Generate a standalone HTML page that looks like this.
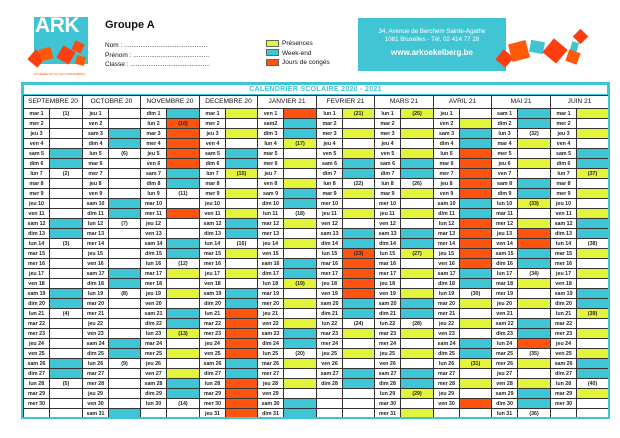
<!DOCTYPE html>
<html><head><meta charset="utf-8"><style>
*{margin:0;padding:0;box-sizing:border-box}
body{width:620px;height:438px;background:#fff;position:relative;overflow:hidden;font-family:"Liberation Sans",sans-serif;color:#222}
.a{position:absolute}
.sq{position:absolute}
#cal{position:absolute;left:21px;top:82px;width:589px;height:337px;border:2px solid #3fc4d4;background:#fff;overflow:hidden}
#title{height:11px;border:1px solid #3fc4d4;color:#3fc4d4;font-weight:bold;font-size:7px;line-height:9px;text-align:center;letter-spacing:.3px}
table{border-collapse:collapse;table-layout:fixed;width:585px}
td{border:1px solid #333;padding:0;font-weight:bold;font-size:5.3px;text-align:center;line-height:8px;overflow:hidden;white-space:nowrap;color:#222}
tr{height:10px}
tr.h{height:13px}
tr.h td{font-size:6.6px;font-weight:normal;color:#111}
.y{background:#e2f43c}.c{background:#3ec6d6}.o{background:#ff540f}
</style></head><body>
<!-- logo -->
<div class="a" style="left:34px;top:17px;width:54px;height:47px;background:#3fc4d4"></div>
<div class="a" style="left:35px;top:14px;font:bold 21px 'Liberation Sans',sans-serif;color:#fff;letter-spacing:-0.5px">ARK</div>
<div class="sq" style="left:30px;top:52px;width:13px;height:13px;background:#ff3d10;transform:rotate(40deg)"></div>
<div class="sq" style="left:40px;top:48px;width:12px;height:12px;background:#ff5a0a;transform:rotate(-15deg)"></div>
<div class="sq" style="left:59px;top:48px;width:14px;height:14px;background:#ff3d10;transform:rotate(30deg)"></div>
<div class="sq" style="left:73px;top:42px;width:10px;height:10px;background:#ff4a10;transform:rotate(25deg)"></div>
<div class="sq" style="left:76px;top:56px;width:9px;height:9px;background:#ff5a0a;transform:rotate(15deg)"></div>
<div class="a" style="left:34px;top:72px;font-size:3px;color:#ff5a0a;white-space:nowrap">ATHÉNÉE ROYAL DE KOEKELBERG</div>
<!-- group -->
<div class="a" style="left:105px;top:19px;font:bold 11px 'Liberation Sans',sans-serif;color:#111">Groupe A</div>
<div class="a" style="left:105px;top:41px;font-size:6.5px;line-height:9.5px;color:#111;white-space:nowrap">Nom : ..............................................<br>Prénom : ..........................................<br>Classe : ............................................</div>
<!-- legend -->
<div class="a y" style="left:266px;top:40px;width:13px;height:7px;border:1px solid #666"></div>
<div class="a c" style="left:266px;top:49px;width:13px;height:7px;border:1px solid #666"></div>
<div class="a o" style="left:266px;top:59px;width:13px;height:7px;border:1px solid #666"></div>
<div class="a" style="left:282px;top:39px;font-size:6.5px;line-height:9.6px;color:#111;white-space:nowrap">Présences<br>Week-end<br>Jours de congés</div>
<!-- contact -->
<div class="a" style="left:358px;top:18px;width:148px;height:53px;background:#41c5d5;color:#fff;text-align:center">
<div style="font-size:6.2px;line-height:8px;margin-top:10px">34, Avenue de Berchem Sainte-Agathe<br>1081 Bruxelles - Tél. 02 414 77 28</div>
<div style="font-weight:bold;font-size:8px;margin-top:4px">www.arkoekelberg.be</div></div>
<div class="sq" style="left:498px;top:52px;width:13px;height:13px;background:#ff3d10;transform:rotate(40deg)"></div>
<div class="sq" style="left:510px;top:42px;width:18px;height:18px;background:#ff5a0a;transform:rotate(-15deg)"></div>
<div class="sq" style="left:530px;top:41px;width:14px;height:12px;background:#3fc4d4;transform:rotate(10deg)"></div>
<div class="sq" style="left:546px;top:42px;width:18px;height:18px;background:#ff3d10;transform:rotate(40deg)"></div>
<div class="sq" style="left:571px;top:42px;width:7px;height:9px;background:#3fc4d4;transform:rotate(15deg)"></div>
<div class="sq" style="left:567px;top:51px;width:12px;height:12px;background:#ff5a0a;transform:rotate(20deg)"></div>
<div class="sq" style="left:575px;top:31px;width:11px;height:11px;background:#ff3d10;transform:rotate(45deg)"></div>
<!-- calendar -->
<div id="cal"><div id="title">CALENDRIER SCOLAIRE 2020 - 2021</div>
<table><colgroup>
<col style="width:26px"><col style="width:33px"><col style="width:26px"><col style="width:32px"><col style="width:26px"><col style="width:33px"><col style="width:26px"><col style="width:32px"><col style="width:26px"><col style="width:33px"><col style="width:26px"><col style="width:32px"><col style="width:26px"><col style="width:33px"><col style="width:26px"><col style="width:32px"><col style="width:26px"><col style="width:33px"><col style="width:26px"><col style="width:32px"></colgroup>
<tr class="h"><td colspan="2">SEPTEMBRE 20</td><td colspan="2">OCTOBRE 20</td><td colspan="2">NOVEMBRE 20</td><td colspan="2">DECEMBRE 20</td><td colspan="2">JANVIER 21</td><td colspan="2">FEVRIER 21</td><td colspan="2">MARS 21</td><td colspan="2">AVRIL 21</td><td colspan="2">MAI 21</td><td colspan="2">JUIN 21</td></tr>
<tr><td>mar 1</td><td>(1)</td><td>jeu 1</td><td></td><td>dim 1</td><td class="c"></td><td>mar 1</td><td class="y"></td><td>ven 1</td><td class="o"></td><td>lun 1</td><td class="y">(21)</td><td>lun 1</td><td class="y">(25)</td><td>jeu 1</td><td></td><td>sam 1</td><td class="c"></td><td>mar 1</td><td class="y"></td></tr>
<tr><td>mer 2</td><td></td><td>ven 2</td><td></td><td>lun 2</td><td class="o">(10)</td><td>mer 2</td><td></td><td>sam2</td><td class="c"></td><td>mar 2</td><td></td><td>mar 2</td><td></td><td>ven 2</td><td class="y"></td><td>dim 2</td><td class="c"></td><td>mer 2</td><td></td></tr>
<tr><td>jeu 3</td><td></td><td>sam 3</td><td class="c"></td><td>mar 3</td><td class="o"></td><td>jeu 3</td><td class="y"></td><td>dim 3</td><td class="c"></td><td>mer 3</td><td class="y"></td><td>mer 3</td><td class="y"></td><td>sam 3</td><td class="c"></td><td>lun 3</td><td>(32)</td><td>jeu 3</td><td class="y"></td></tr>
<tr><td>ven 4</td><td></td><td>dim 4</td><td class="c"></td><td>mer 4</td><td class="o"></td><td>ven 4</td><td></td><td>lun 4</td><td class="y">(17)</td><td>jeu 4</td><td></td><td>jeu 4</td><td></td><td>dim 4</td><td class="c"></td><td>mar 4</td><td class="y"></td><td>ven 4</td><td></td></tr>
<tr><td>sam 5</td><td class="c"></td><td>lun 5</td><td>(6)</td><td>jeu 5</td><td class="o"></td><td>sam 5</td><td class="c"></td><td>mar 5</td><td></td><td>ven 5</td><td class="y"></td><td>ven 5</td><td class="y"></td><td>lun 5</td><td class="o"></td><td>mer 5</td><td></td><td>sam 5</td><td class="c"></td></tr>
<tr><td>dim 6</td><td class="c"></td><td>mar 6</td><td></td><td>ven 6</td><td class="o"></td><td>dim 6</td><td class="c"></td><td>mer 6</td><td class="y"></td><td>sam 6</td><td class="c"></td><td>sam 6</td><td class="c"></td><td>mar 6</td><td class="o"></td><td>jeu 6</td><td class="y"></td><td>dim 6</td><td class="c"></td></tr>
<tr><td>lun 7</td><td>(2)</td><td>mer 7</td><td></td><td>sam 7</td><td class="c"></td><td>lun 7</td><td class="y">(15)</td><td>jeu 7</td><td></td><td>dim 7</td><td class="c"></td><td>dim 7</td><td class="c"></td><td>mer 7</td><td class="o"></td><td>ven 7</td><td></td><td>lun 7</td><td class="y">(37)</td></tr>
<tr><td>mar 8</td><td></td><td>jeu 8</td><td></td><td>dim 8</td><td class="c"></td><td>mar 8</td><td></td><td>ven 8</td><td class="y"></td><td>lun 8</td><td>(22)</td><td>lun 8</td><td>(26)</td><td>jeu 8</td><td class="o"></td><td>sam 8</td><td class="c"></td><td>mar 8</td><td></td></tr>
<tr><td>mer 9</td><td></td><td>ven 9</td><td></td><td>lun 9</td><td>(11)</td><td>mer 9</td><td class="y"></td><td>sam 9</td><td class="c"></td><td>mar 9</td><td class="y"></td><td>mar 9</td><td class="y"></td><td>ven 9</td><td class="o"></td><td>dim 9</td><td class="c"></td><td>mer 9</td><td class="y"></td></tr>
<tr><td>jeu 10</td><td></td><td>sam 10</td><td class="c"></td><td>mar 10</td><td></td><td>jeu 10</td><td></td><td>dim 10</td><td class="c"></td><td>mer 10</td><td></td><td>mer 10</td><td></td><td>sam 10</td><td class="c"></td><td>lun 10</td><td class="y">(33)</td><td>jeu 10</td><td></td></tr>
<tr><td>ven 11</td><td></td><td>dim 11</td><td class="c"></td><td>mer 11</td><td class="o"></td><td>ven 11</td><td class="y"></td><td>lun 11</td><td>(18)</td><td>jeu 11</td><td class="y"></td><td>jeu 11</td><td class="y"></td><td>dim 11</td><td class="c"></td><td>mar 11</td><td></td><td>ven 11</td><td class="y"></td></tr>
<tr><td>sam 12</td><td class="c"></td><td>lun 12</td><td>(7)</td><td>jeu 12</td><td></td><td>sam 12</td><td class="c"></td><td>mar 12</td><td class="y"></td><td>ven 12</td><td></td><td>ven 12</td><td></td><td>lun 12</td><td class="o"></td><td>mer 12</td><td class="y"></td><td>sam 12</td><td class="c"></td></tr>
<tr><td>dim 13</td><td class="c"></td><td>mar 13</td><td></td><td>ven 13</td><td></td><td>dim 13</td><td class="c"></td><td>mer 13</td><td></td><td>sam 13</td><td class="c"></td><td>sam 13</td><td class="c"></td><td>mar 13</td><td class="o"></td><td>jeu 13</td><td class="o"></td><td>dim 13</td><td class="c"></td></tr>
<tr><td>lun 14</td><td>(3)</td><td>mer 14</td><td></td><td>sam 14</td><td class="c"></td><td>lun 14</td><td>(16)</td><td>jeu 14</td><td class="y"></td><td>dim 14</td><td class="c"></td><td>dim 14</td><td class="c"></td><td>mer 14</td><td class="o"></td><td>ven 14</td><td class="o"></td><td>lun 14</td><td>(38)</td></tr>
<tr><td>mar 15</td><td></td><td>jeu 15</td><td></td><td>dim 15</td><td class="c"></td><td>mar 15</td><td class="y"></td><td>ven 15</td><td></td><td>lun 15</td><td class="o">(23)</td><td>lun 15</td><td class="y">(27)</td><td>jeu 15</td><td class="o"></td><td>sam 15</td><td class="c"></td><td>mar 15</td><td class="y"></td></tr>
<tr><td>mer 16</td><td></td><td>ven 16</td><td></td><td>lun 16</td><td>(12)</td><td>mer 16</td><td></td><td>sam 16</td><td class="c"></td><td>mar 16</td><td class="o"></td><td>mar 16</td><td></td><td>ven 16</td><td class="o"></td><td>dim 16</td><td class="c"></td><td>mer 16</td><td></td></tr>
<tr><td>jeu 17</td><td></td><td>sam 17</td><td class="c"></td><td>mar 17</td><td class="y"></td><td>jeu 17</td><td class="y"></td><td>dim 17</td><td class="c"></td><td>mer 17</td><td class="o"></td><td>mer 17</td><td class="y"></td><td>sam 17</td><td class="c"></td><td>lun 17</td><td>(34)</td><td>jeu 17</td><td class="y"></td></tr>
<tr><td>ven 18</td><td></td><td>dim 18</td><td class="c"></td><td>mer 18</td><td></td><td>ven 18</td><td></td><td>lun 18</td><td class="y">(19)</td><td>jeu 18</td><td class="o"></td><td>jeu 18</td><td></td><td>dim 18</td><td class="c"></td><td>mar 18</td><td class="y"></td><td>ven 18</td><td></td></tr>
<tr><td>sam 19</td><td class="c"></td><td>lun 19</td><td>(8)</td><td>jeu 19</td><td class="y"></td><td>sam 19</td><td class="c"></td><td>mar 19</td><td></td><td>ven 19</td><td class="o"></td><td>ven 19</td><td class="y"></td><td>lun 19</td><td>(30)</td><td>mer 19</td><td></td><td>sam 19</td><td class="c"></td></tr>
<tr><td>dim 20</td><td class="c"></td><td>mar 20</td><td></td><td>ven 20</td><td></td><td>dim 20</td><td class="c"></td><td>mer 20</td><td class="y"></td><td>sam 20</td><td class="c"></td><td>sam 20</td><td class="c"></td><td>mar 20</td><td class="y"></td><td>jeu 20</td><td class="y"></td><td>dim 20</td><td class="c"></td></tr>
<tr><td>lun 21</td><td>(4)</td><td>mer 21</td><td></td><td>sam 21</td><td class="c"></td><td>lun 21</td><td class="o"></td><td>jeu 21</td><td></td><td>dim 21</td><td class="c"></td><td>dim 21</td><td class="c"></td><td>mer 21</td><td></td><td>ven 21</td><td></td><td>lun 21</td><td class="y">(39)</td></tr>
<tr><td>mar 22</td><td></td><td>jeu 22</td><td></td><td>dim 22</td><td class="c"></td><td>mar 22</td><td class="o"></td><td>ven 22</td><td class="y"></td><td>lun 22</td><td>(24)</td><td>lun 22</td><td>(28)</td><td>jeu 22</td><td class="y"></td><td>sam 22</td><td class="c"></td><td>mar 22</td><td></td></tr>
<tr><td>mer 23</td><td></td><td>ven 23</td><td></td><td>lun 23</td><td class="y">(13)</td><td>mer 23</td><td class="o"></td><td>sam 23</td><td class="c"></td><td>mar 23</td><td class="y"></td><td>mar 23</td><td class="y"></td><td>ven 23</td><td></td><td>dim 23</td><td class="c"></td><td>mer 23</td><td class="y"></td></tr>
<tr><td>jeu 24</td><td></td><td>sam 24</td><td class="c"></td><td>mar 24</td><td></td><td>jeu 24</td><td class="o"></td><td>dim 24</td><td class="c"></td><td>mer 24</td><td></td><td>mer 24</td><td></td><td>sam 24</td><td class="c"></td><td>lun 24</td><td class="o"></td><td>jeu 24</td><td></td></tr>
<tr><td>ven 25</td><td></td><td>dim 25</td><td class="c"></td><td>mer 25</td><td class="y"></td><td>ven 25</td><td class="o"></td><td>lun 25</td><td>(20)</td><td>jeu 25</td><td class="y"></td><td>jeu 25</td><td class="y"></td><td>dim 25</td><td class="c"></td><td>mar 25</td><td>(35)</td><td>ven 25</td><td class="y"></td></tr>
<tr><td>sam 26</td><td class="c"></td><td>lun 26</td><td>(9)</td><td>jeu 26</td><td></td><td>sam 26</td><td class="c"></td><td>mar 26</td><td class="y"></td><td>ven 26</td><td></td><td>ven 26</td><td></td><td>lun 26</td><td class="y">(31)</td><td>mer 26</td><td class="y"></td><td>sam 26</td><td class="c"></td></tr>
<tr><td>dim 27</td><td class="c"></td><td>mar 27</td><td></td><td>ven 27</td><td class="y"></td><td>dim 27</td><td class="c"></td><td>mer 27</td><td></td><td>sam 27</td><td class="c"></td><td>sam 27</td><td class="c"></td><td>mar 27</td><td></td><td>jeu 27</td><td></td><td>dim 27</td><td class="c"></td></tr>
<tr><td>lun 28</td><td>(5)</td><td>mer 28</td><td></td><td>sam 28</td><td class="c"></td><td>lun 28</td><td class="o"></td><td>jeu 28</td><td class="y"></td><td>dim 28</td><td class="c"></td><td>dim 28</td><td class="c"></td><td>mer 28</td><td class="y"></td><td>ven 28</td><td class="y"></td><td>lun 28</td><td>(40)</td></tr>
<tr><td>mar 29</td><td></td><td>jeu 29</td><td></td><td>dim 29</td><td class="c"></td><td>mar 29</td><td class="o"></td><td>ven 29</td><td></td><td></td><td></td><td>lun 29</td><td class="y">(29)</td><td>jeu 29</td><td></td><td>sam 29</td><td class="c"></td><td>mar 29</td><td class="y"></td></tr>
<tr><td>mer 30</td><td></td><td>ven 30</td><td></td><td>lun 30</td><td>(14)</td><td>mer 30</td><td class="o"></td><td>sam 30</td><td class="c"></td><td></td><td></td><td>mar 30</td><td></td><td>ven 30</td><td class="o"></td><td>dim 30</td><td class="c"></td><td>mer 30</td><td></td></tr>
<tr><td></td><td></td><td>sam 31</td><td class="c"></td><td></td><td></td><td>jeu 31</td><td class="o"></td><td>dim 31</td><td class="c"></td><td></td><td></td><td>mer 31</td><td class="y"></td><td></td><td></td><td>lun 31</td><td>(36)</td><td></td><td></td></tr>
</table></div>
</body></html>
